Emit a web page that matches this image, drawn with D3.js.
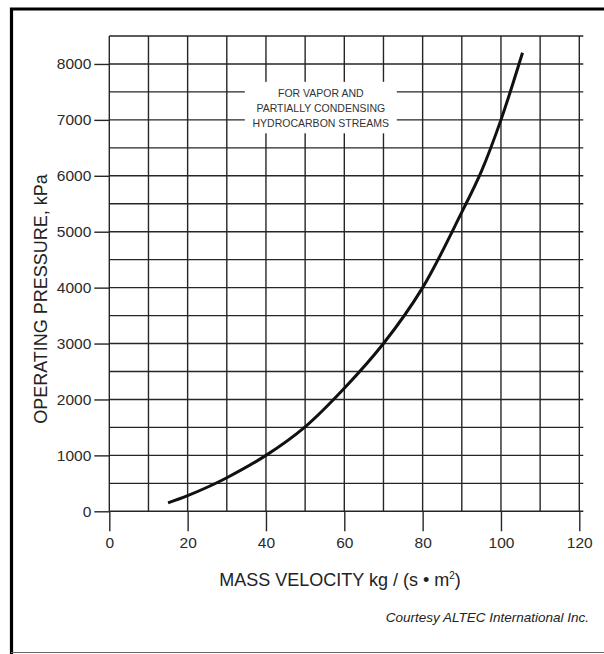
<!DOCTYPE html>
<html>
<head>
<meta charset="utf-8">
<script src="https://cdn.jsdelivr.net/npm/d3@7"></script>
<style>
    body { margin: 0; background: #fff; }
    svg { display: block; font-family: "Liberation Sans", Arial, Helvetica, sans-serif; }
    .tick text { fill: #2a2a2a; }
</style>
</head>
<body>
<div id="wrapper"></div>
<script>
// data
const massVelocity = [15, 20, 25, 30, 40, 50, 60, 70, 80, 90, 95, 100, 105.5]
const pressure = [150, 280, 430, 600, 1000, 1510, 2200, 3000, 4000, 5350, 6080, 7000, 8200]
const xTicks = [0, 20, 40, 60, 80, 100, 120]
const yTicks = [0, 1000, 2000, 3000, 4000, 5000, 6000, 7000, 8000]
const noteLines = ["FOR VAPOR AND", "PARTIALLY CONDENSING", "HYDROCARBON STREAMS"]

function drawChart() {
    const dataset = massVelocity.map((v, i) => ({ x: v, y: pressure[i] }))
    const xAccessor = d => d.x
    const yAccessor = d => d.y

    // chart dimensions
    let dimensions = {
        width: 604,
        height: 654,
        margin: {
            top: 36,
            right: 24.7,
            bottom: 142.7,
            left: 109.3
        }
    }
    dimensions.boundedWidth = dimensions.width
        - dimensions.margin.left
        - dimensions.margin.right
    dimensions.boundedHeight = dimensions.height
        - dimensions.margin.top
        - dimensions.margin.bottom

    // draw canvas
    const wrapper = d3.select("#wrapper")
        .append("svg")
        .attr("width", dimensions.width)
        .attr("height", dimensions.height)

    // page frame
    wrapper.append("path")
        .attr("d", "M604,9H11.5V654")
        .attr("fill", "none")
        .attr("stroke", "#000")
        .attr("stroke-width", 3.2)
    wrapper.append("line")
        .attr("x1", 11).attr("x2", 604)
        .attr("y1", 652.5).attr("y2", 652.5)
        .attr("stroke", "#666")
        .attr("stroke-width", 1)

    const bounds = wrapper.append("g")
        .attr("transform", `translate(${dimensions.margin.left},${dimensions.margin.top})`)

    // scales
    const xScale = d3.scaleLinear()
        .domain([0, 120])
        .range([0, dimensions.boundedWidth])

    const yScale = d3.scaleLinear()
        .domain([0, 8500])
        .range([dimensions.boundedHeight, 0])

    // grid
    const grid = bounds.append("g")
        .attr("stroke", "#262626")
        .attr("stroke-width", 1.4)

    grid.selectAll(".v")
        .data(d3.range(0, 121, 10))
        .enter().append("line")
        .attr("x1", d => xScale(d)).attr("x2", d => xScale(d))
        .attr("y1", 0).attr("y2", dimensions.boundedHeight)

    grid.selectAll(".h")
        .data(d3.range(0, 8501, 500))
        .enter().append("line")
        .attr("x1", 0).attr("x2", dimensions.boundedWidth + 4)
        .attr("y1", d => yScale(d)).attr("y2", d => yScale(d))

    // axes
    const yAxis = bounds.append("g")
        .call(d3.axisLeft(yScale).tickValues(yTicks).tickFormat(d3.format("d"))
            .tickSize(15).tickPadding(3))
    const xAxis = bounds.append("g")
        .attr("transform", `translate(0,${dimensions.boundedHeight})`)
        .call(d3.axisBottom(xScale).tickValues(xTicks).tickFormat(d3.format("d"))
            .tickSize(20).tickPadding(6))

    ;[xAxis, yAxis].forEach(axis => {
        axis.select(".domain").remove()
        axis.selectAll("line").attr("stroke", "#262626").attr("stroke-width", 1.4)
        axis.selectAll("text").attr("font-size", 15.5).attr("font-family", null)
    })

    // note box
    const noteBox = bounds.append("g")
    noteBox.append("rect")
        .attr("x", xScale(34.6))
        .attr("y", yScale(7680))
        .attr("width", xScale(73.4) - xScale(34.6))
        .attr("height", yScale(6760) - yScale(7680))
        .attr("fill", "#fff")
    noteBox.selectAll("text")
        .data(noteLines)
        .enter().append("text")
        .attr("x", xScale(54))
        .attr("y", (d, i) => yScale(7680) + 15 + i * 15)
        .attr("text-anchor", "middle")
        .attr("font-size", 10.5)
        .attr("fill", "#333")
        .text(d => d)

    // curve
    const lineGenerator = d3.line()
        .x(d => xScale(xAccessor(d)))
        .y(d => yScale(yAccessor(d)))
        .curve(d3.curveCatmullRom.alpha(0.5))

    bounds.append("path")
        .datum(dataset)
        .attr("d", lineGenerator)
        .attr("fill", "none")
        .attr("stroke", "#111")
        .attr("stroke-width", 3)

    // labels
    const xLabel = wrapper.append("text")
        .attr("x", 340)
        .attr("y", 585.5)
        .attr("text-anchor", "middle")
        .attr("font-size", 18)
        .attr("fill", "#222")
    xLabel.append("tspan").text("MASS VELOCITY kg / (s \u2022 m")
    xLabel.append("tspan")
        .attr("font-size", 10)
        .attr("dy", -7)
        .text("2")
    xLabel.append("tspan")
        .attr("dy", 7)
        .text(")")

    wrapper.append("text")
        .attr("transform", "translate(46.5,299) rotate(-90)")
        .attr("text-anchor", "middle")
        .attr("font-size", 18)
        .attr("fill", "#222")
        .text("OPERATING PRESSURE, kPa")

    wrapper.append("text")
        .attr("x", 589)
        .attr("y", 622)
        .attr("text-anchor", "end")
        .attr("font-size", 13.5)
        .attr("font-style", "italic")
        .attr("fill", "#222")
        .text("Courtesy ALTEC International Inc.")
}

drawChart()
</script>
</body>
</html>
